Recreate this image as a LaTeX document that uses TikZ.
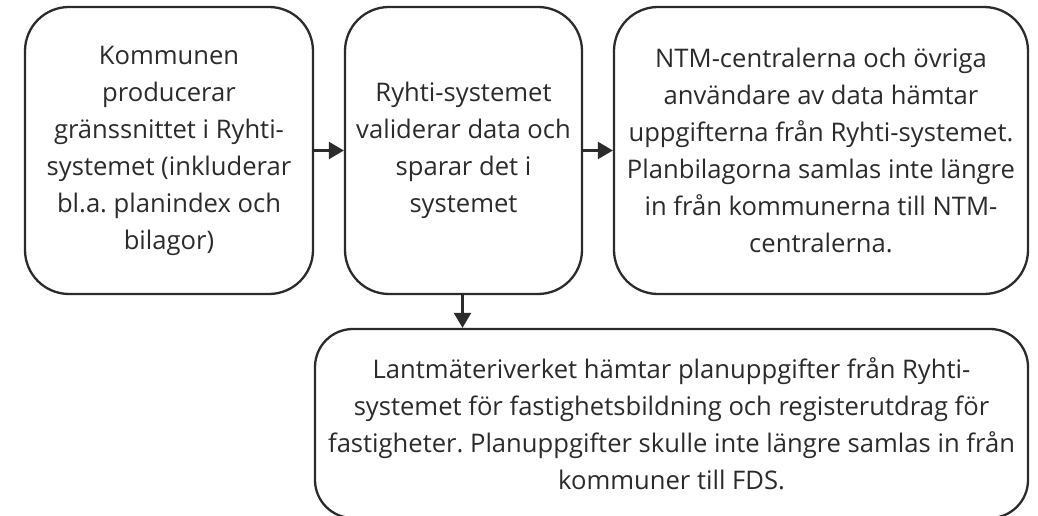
\documentclass[tikz,border=0pt]{standalone}
\usepackage{fontspec}
\setmainfont{Open Sans}
\usetikzlibrary{arrows.meta}
\definecolor{ink}{HTML}{2B2B2B}
\frenchspacing
\begin{document}
\begin{tikzpicture}[x=1pt,y=1pt,
  box/.style={draw=ink, line width=2.3pt, rounded corners=44pt, align=center,
    text=ink, font=\fontsize{25.6}{37}\selectfont, inner sep=0pt},
  conn/.style={draw=ink, line width=2.3pt, -{Triangle[length=15pt,width=17pt]}}]
\clip (0,0) rectangle (1038,516);
\useasboundingbox (0,0) rectangle (1038,516);
\node[box, minimum width=288pt, minimum height=287pt] (b1) at (169,365.5)
  {Kommunen\\producerar\\gränssnittet i Ryhti-\\systemet (inkluderar\\bl.a. planindex och\\bilagor)};
\node[box, minimum width=237pt, minimum height=287pt] (b2) at (463.5,365.5)
  {Ryhti-systemet\\validerar data och\\sparar det i\\systemet};
\node[box, minimum width=414pt, minimum height=287pt] (b3) at (821,365.5)
  {NTM-centralerna och övriga\\användare av data hämtar\\uppgifterna från Ryhti-systemet.\\Planbilagorna samlas inte längre\\in från kommunerna till NTM-\\centralerna.};
\node[box, rounded corners=38pt, minimum width=713pt, minimum height=189pt] (b4) at (671.5,92.5)
  {Lantmäteriverket hämtar planuppgifter från Ryhti-\\systemet för fastighetsbildning och registerutdrag för\\fastigheter. Planuppgifter skulle inte längre samlas in från\\kommuner till FDS.};
\draw[conn] (b1.east) -- (b2.west);
\draw[conn] (b2.east) -- (b3.west);
\draw[conn] ([xshift=-1pt]b2.south) -- ([xshift=-1pt]b2.south |- b4.north);
\end{tikzpicture}
\end{document}
